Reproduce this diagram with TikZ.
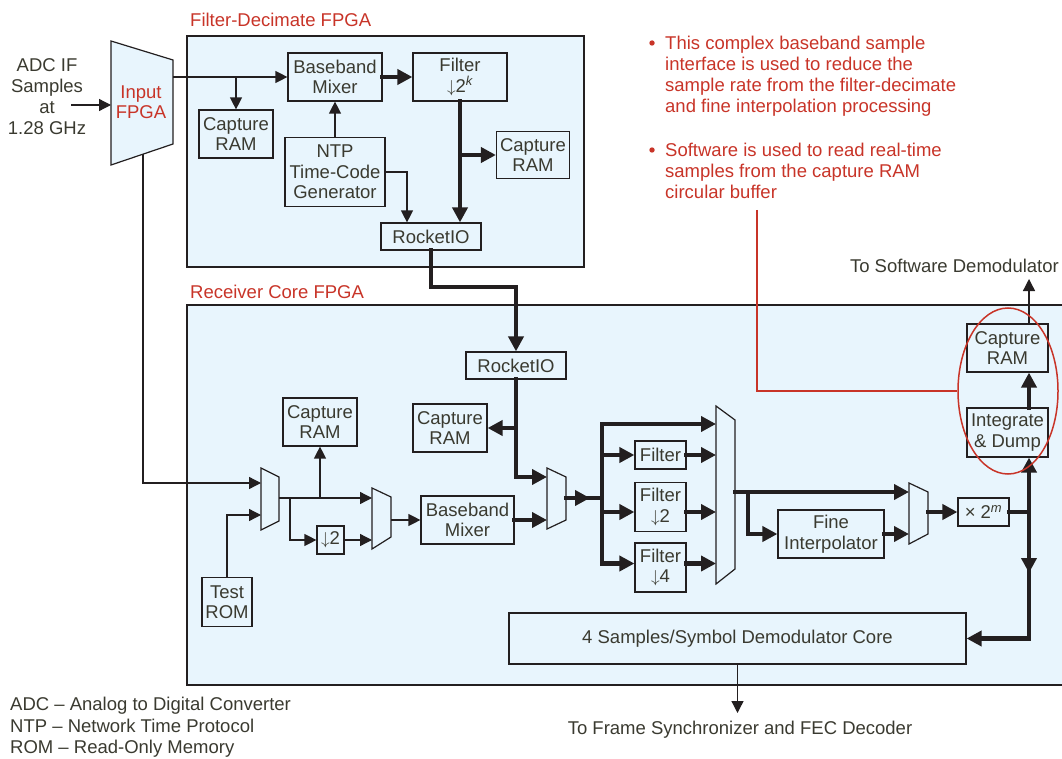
\documentclass[tikz,border=0pt]{standalone}
\usepackage{fontspec}
\setmainfont{Liberation Sans}
\usetikzlibrary{arrows.meta,shapes.geometric,calc}
\definecolor{boxfill}{RGB}{232,245,253}
\definecolor{linec}{RGB}{35,31,32}
\definecolor{txtc}{RGB}{58,58,48}
\definecolor{notered}{RGB}{200,52,40}
\newcommand{\dia}{\fontsize{18.5}{20.5}\selectfont}

\begin{document}
\begin{tikzpicture}[x=1pt,y=-1pt,
  blk/.style={draw=linec,fill=boxfill,line width=1.2pt,align=center,inner sep=0pt,text=txtc,font=\dia},
  mux/.style={draw=linec,fill=boxfill,line width=1.2pt,line join=miter},
  fpga/.style={draw=linec,line width=1.2pt},
  lbl/.style={text=txtc,font=\dia,align=center,inner sep=0pt},
  redlbl/.style={text=notered,font=\dia,align=left,inner sep=0pt},
  ln/.style={draw=linec,line width=1.3pt,-{Triangle[length=12pt,width=12pt]}},
  thkl/.style={draw=linec,line width=4.5pt,line cap=rect,line join=miter},
  thk/.style={thkl,-{Triangle[length=15pt,width=15pt]}},
  redln/.style={draw=notered,line width=1.3pt}]
\useasboundingbox (0,0) rectangle (1062,759);

% FPGA outlines
\draw[fpga,fill=boxfill] (187,36) rectangle (584,267);
\node[redlbl,anchor=west] (fdtitle) at (190,20) {Filter-Decimate FPGA};
\fill[boxfill] (187,305) rectangle (1062,685);
\draw[fpga] (1062,305) -| (187,685) -- (1062,685);
\node[redlbl,anchor=west] (rctitle) at (190,292) {Receiver Core FPGA};

% input FPGA
\draw[mux] (111,41) -- (173,60) -- (173,144) -- (111,165) -- cycle;
\node[redlbl,align=center] (inlab) at (141,102) {Input\\FPGA};
\coordinate (inL) at (111,105);
\coordinate (inR) at (173,77);
\coordinate (inB) at (143,154);
\node[lbl,font=\fontsize{18.5}{21}\selectfont] (adc) at (47,97) {ADC IF\\Samples\\at\\1.28 GHz};
\coordinate (adcout) at (71,105);
\draw[ln] (adcout) -- (inL);

% filter-decimate blocks
\node[blk,minimum width=74,minimum height=48] (capA) at (236,134) {Capture\\RAM};
\node[blk,minimum width=94,minimum height=48] (mixA) at (335,77) {Baseband\\Mixer};
\node[blk,minimum width=94,minimum height=48] (filtA) at (460,77) {Filter\\$\downarrow$2\textsuperscript{\itshape k}};
\node[blk,minimum width=100,minimum height=69] (ntp) at (335,172) {NTP\\Time-Code\\Generator};
\node[blk,minimum width=100,minimum height=27] (rioA) at (431,236.5) {RocketIO};
\node[blk,minimum width=73,minimum height=47] (capB) at (533,155) {Capture\\RAM};

% receiver core blocks
\node[blk,minimum width=100,minimum height=27] (rioB) at (516,365.5) {RocketIO};
\node[blk,minimum width=74,minimum height=48] (capC) at (450,428) {Capture\\RAM};
\node[blk,minimum width=74,minimum height=48] (capD) at (320,422) {Capture\\RAM};
\node[blk,minimum width=50,minimum height=49] (rom) at (227,602) {Test\\ROM};
\node[blk,minimum width=27,minimum height=28] (dec2) at (330.5,540) {$\downarrow$2};
\node[blk,minimum width=93,minimum height=48] (mixB) at (467.5,520) {Baseband\\Mixer};
\node[blk,minimum width=51,minimum height=28] (filt1) at (660.5,455) {Filter};
\node[blk,minimum width=51,minimum height=49] (filt2) at (660.5,507) {Filter\\$\downarrow$2};
\node[blk,minimum width=51,minimum height=49] (filt4) at (660.5,567.5) {Filter\\$\downarrow$4};
\node[blk,minimum width=106,minimum height=48] (fine) at (831,534) {Fine\\Interpolator};
\node[blk,minimum width=51,minimum height=28] (mul) at (983.5,512) {× 2\textsuperscript{\itshape m}};
\node[blk,minimum width=81,minimum height=49] (intd) at (1007.5,432.5) {Integrate\\\& Dump};
\node[blk,minimum width=81,minimum height=48] (capE) at (1007.5,348) {Capture\\RAM};
\node[blk,minimum width=457,minimum height=51] (demod) at (737.5,638.5) {4 Samples/Symbol Demodulator Core};

% multiplexers
\draw[mux] (261,468) -- (279,477) -- (279,521) -- (261,530) -- cycle;
\coordinate (m1a) at (261,483);
\coordinate (m1b) at (261,515);
\coordinate (m1o) at (279,498);
\draw[mux] (372,488) -- (391,497) -- (391,537) -- (372,549) -- cycle;
\coordinate (m3a) at (372,498);
\coordinate (m3b) at (372,540);
\coordinate (m3o) at (391,520);
\draw[mux] (547,468) -- (566,477) -- (566,520) -- (547,529) -- cycle;
\coordinate (m2a) at (547,477);
\coordinate (m2b) at (547,520);
\coordinate (m2o) at (566,498);
\draw[mux] (716,406) -- (735,420) -- (735,569) -- (716,584) -- cycle;
\coordinate (m4a) at (716,424);
\coordinate (m4o) at (735,492);
\draw[mux] (909,483) -- (928,492) -- (928,534) -- (909,544) -- cycle;
\coordinate (m5a) at (909,492);
\coordinate (m5b) at (909,534);
\coordinate (m5o) at (928,512);

% filter-decimate connections
\draw[ln] (inR) -- (mixA.west);
\draw[ln] (capA.north |- inR) -- (capA.north);
\draw[thk] (mixA.east) -- (filtA.west);
\draw[ln] (ntp.north) -- (mixA.south);
\draw[ln] (ntp.east) -| ([xshift=-24pt]rioA.north);
\draw[thk] (filtA.south) -- (filtA.south |- rioA.north);
\draw[thk] (filtA.south |- capB.west) -- (capB.west);
\coordinate (lnk) at (516,287);
\draw[thk] (rioA.south) |- (lnk) -- (rioB.north);

% receiver core connections
\draw[ln] (inB) |- (m1a);
\draw[ln] (rom.north) |- (m1b);
\draw[ln] (m1o) -- (m3a);
\draw[ln] (capD.south |- m1o) -- (capD.south);
\coordinate (tapB) at (290,498);
\draw[ln] (tapB) |- (dec2.west);
\draw[ln] (dec2.east) -- (m3b);
\draw[ln] (m3o) -- (mixB.west);
\draw[thk] (mixB.east) -- (m2b);
\draw[thk] (rioB.south) |- (m2a);
\draw[thk] (rioB.south |- capC.east) -- (capC.east);
\coordinate (busA) at (602,498);
\coordinate (m2tip) at (590,498);
\draw[thkl] (m2o) -- (busA);
\draw[thk] (m2o) -- (m2tip);
\coordinate (f2y) at ([yshift=-5pt]filt2.west);
\coordinate (f4y) at ([yshift=4pt]filt4.west);
\draw[thk] (busA |- f4y) |- (m4a);
\draw[thk] (busA |- filt1.west) -- (filt1.west);
\draw[thk] (busA |- f2y) -- (f2y);
\draw[thk] (busA |- f4y) -- (f4y);
\draw[thk] (filt1.east) -- (filt1.east -| m4a);
\draw[thk] ([yshift=-5pt]filt2.east) -- ([yshift=-5pt]filt2.east -| m4a);
\draw[thk] ([yshift=4pt]filt4.east) -- ([yshift=4pt]filt4.east -| m4a);
\draw[thk] (m4o) -- (m5a);
\coordinate (tapC) at (748,492);
\draw[thk] (tapC) |- (fine.west);
\draw[thk] (fine.east) -- (m5b);
\draw[thk] (m5o) -- (mul.west);
\coordinate (busR) at (1029,512);
\coordinate (busDn) at (1029,573);
\draw[thkl] (mul.east) -- (busR);
\draw[thk] (busR) -- (busR |- intd.south);
\draw[thk] (busR) |- (demod.east);
\draw[thk] (busR) -- (busDn);
\draw[thk] (busR |- intd.north) -- (busR |- capE.south);
\coordinate (swout) at (1029,279);
\draw[ln] (busR |- capE.north) -- (swout);
\node[lbl,anchor=east] (swtxt) at (1059,266) {To Software Demodulator};
\coordinate (frout) at (737.5,713);
\draw[ln] (demod.south) -- (frout);
\node[lbl] (frtxt) at (740,730) {To Frame Synchronizer and FEC Decoder};

% notes
\fill[notered] (652,43) circle (2.7);
\node[redlbl,anchor=north west,font=\fontsize{18.5}{21}\selectfont] (note1) at (665,36) {This complex baseband sample\\interface is used to reduce the\\sample rate from the filter-decimate\\and fine interpolation processing};
\fill[notered] (652,150) circle (2.7);
\node[redlbl,anchor=north west,font=\fontsize{18.5}{21}\selectfont] (note2) at (665,143) {Software is used to read real-time\\samples from the capture RAM\\circular buffer};
\node[draw=notered,line width=1.5pt,ellipse,minimum width=100,minimum height=166,inner sep=0pt] (ell) at (1008,391) {};
\coordinate (redtop) at (757,210);
\draw[redln] (redtop) |- (ell.west);

% legend
\node[lbl,align=left,anchor=north west,font=\fontsize{18.5}{21.5}\selectfont] (legend) at (10,697) {ADC -- Analog to Digital Converter\\NTP -- Network Time Protocol\\ROM -- Read-Only Memory};
\end{tikzpicture}
\end{document}
